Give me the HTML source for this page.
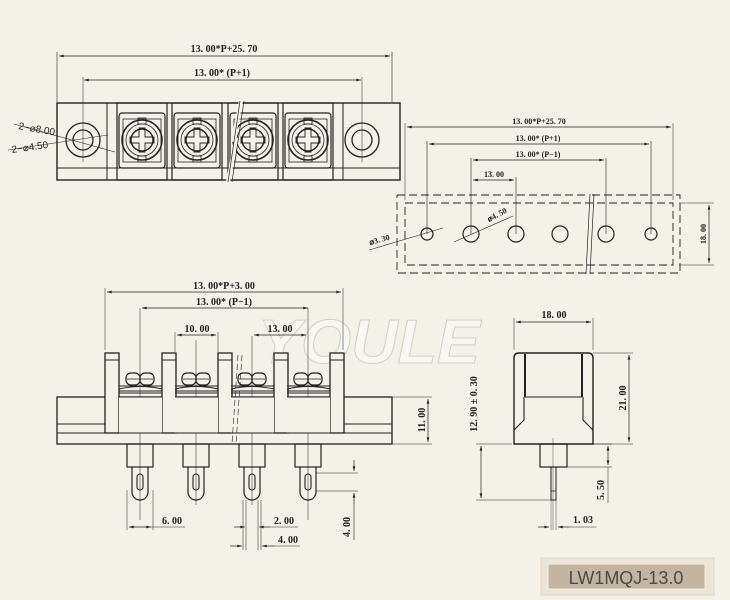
<!DOCTYPE html>
<html><head><meta charset="utf-8"><style>
html,body{margin:0;padding:0;background:#f4f1e9;}
svg{display:block;}
text{font-family:"Liberation Serif",serif;font-weight:bold;fill:#222;}
</style></head><body>
<svg width="730" height="600" viewBox="0 0 730 600" xmlns="http://www.w3.org/2000/svg">
<defs>
<marker id="a" viewBox="0 0 10 6" refX="10" refY="3" markerWidth="8" markerHeight="4" orient="auto-start-reverse"><path d="M0,0L10,3L0,6z" fill="#222"/></marker>
</defs>
<rect width="730" height="600" fill="#f4f1e9"/>
<!-- watermark -->
<text x="258" y="363" font-size="62" font-style="italic" textLength="222" lengthAdjust="spacingAndGlyphs" style="fill:#f8f7f2;stroke:#d3d0c8;stroke-width:1;font-family:'Liberation Sans',sans-serif">YOULE</text>

<g stroke="#222" fill="none" stroke-width="1">
<!-- ===== TOP VIEW ===== -->
<line x1="57" y1="102" x2="57" y2="52" stroke-width="0.6"/>
<line x1="392" y1="102" x2="392" y2="52" stroke-width="0.6"/>
<line x1="59" y1="56" x2="390" y2="56" stroke-width="0.7" marker-start="url(#a)" marker-end="url(#a)"/>
<line x1="84" y1="80" x2="361" y2="80" stroke-width="0.7" marker-start="url(#a)" marker-end="url(#a)"/>
<line x1="83" y1="77" x2="83" y2="162" stroke-width="0.5"/>
<line x1="362" y1="77" x2="362" y2="162" stroke-width="0.5"/>
<rect x="57" y="103" width="343" height="77" stroke-width="1.4"/>
<line x1="57" y1="168" x2="400" y2="168" stroke-width="1"/>
<line x1="107" y1="103" x2="107" y2="180"/>
<line x1="343" y1="103" x2="343" y2="180"/>
<circle cx="83" cy="140" r="17" stroke-width="1.3"/>
<circle cx="83" cy="140" r="10" stroke-width="1.3"/>
<circle cx="362" cy="140" r="17" stroke-width="1.3"/>
<circle cx="362" cy="140" r="10" stroke-width="1.3"/>
<line x1="14" y1="124" x2="115" y2="152" stroke-width="0.6"/>
<line x1="8" y1="150" x2="108" y2="135" stroke-width="0.6"/>
<g id="cell">
<rect x="117" y="103" width="50" height="77" stroke-width="1.2"/>
<rect x="119" y="113" width="46" height="55" rx="3" stroke-width="1.2"/>
<rect x="123" y="119" width="38" height="43" stroke-width="0.8"/>
<circle cx="142" cy="140" r="20" stroke-width="1.6"/>
<circle cx="142" cy="140" r="16" stroke-width="0.8"/>
<circle cx="142" cy="140" r="11" stroke-width="1.4"/>
<path d="M139,128h6v9h9v6h-9v9h-6v-9h-9v-6h9z" stroke-width="0.9"/>
<rect x="138" y="118" width="8" height="6" stroke-width="0.8"/>
<rect x="138" y="156" width="8" height="6" stroke-width="0.8"/>
</g>
<use href="#cell" x="55"/>
<use href="#cell" x="111"/>
<use href="#cell" x="166"/>
<path d="M241,101 L233,140 L236,140 L228,182" stroke="#f4f1e9" stroke-width="4"/>
<path d="M240,101 L228,182 M244,101 L232,182" stroke-width="0.7"/>

<!-- ===== HOLE VIEW ===== -->
<line x1="405" y1="123" x2="405" y2="200" stroke-width="0.5"/>
<line x1="673" y1="123" x2="673" y2="200" stroke-width="0.5"/>
<line x1="407" y1="127" x2="671" y2="127" stroke-width="0.7" marker-start="url(#a)" marker-end="url(#a)"/>
<line x1="427" y1="141" x2="427" y2="234" stroke-width="0.6"/>
<line x1="651" y1="141" x2="651" y2="234" stroke-width="0.6"/>
<line x1="429" y1="144" x2="649" y2="144" stroke-width="0.7" marker-start="url(#a)" marker-end="url(#a)"/>
<line x1="471" y1="158" x2="471" y2="234" stroke-width="0.6"/>
<line x1="606" y1="158" x2="606" y2="234" stroke-width="0.6"/>
<line x1="473" y1="160" x2="604" y2="160" stroke-width="0.7" marker-start="url(#a)" marker-end="url(#a)"/>
<line x1="516" y1="177" x2="516" y2="234" stroke-width="0.6"/>
<line x1="473" y1="180" x2="514" y2="180" stroke-width="0.7" marker-start="url(#a)" marker-end="url(#a)"/>
<g stroke-dasharray="8,4" stroke-width="0.9">
<path d="M397,195 H588"/>
<path d="M592,195 H680 V273 H590"/>
<path d="M586,273 H397 V195"/>
<path d="M405,203 H673 V265 H405 Z"/>
</g>
<path d="M590,194 L586,274 M594,194 L590,274" stroke-width="0.7"/>
<circle cx="427" cy="234" r="6" stroke-width="1.2"/>
<circle cx="471" cy="234" r="8" stroke-width="1.2"/>
<circle cx="516" cy="234" r="8" stroke-width="1.2"/>
<circle cx="560" cy="234" r="8" stroke-width="1.2"/>
<circle cx="606" cy="234" r="8" stroke-width="1.2"/>
<circle cx="651" cy="234" r="6" stroke-width="1.2"/>
<line x1="369" y1="250" x2="443" y2="228" stroke-width="0.6"/>
<line x1="454" y1="242" x2="513" y2="216" stroke-width="0.6"/>
<line x1="679" y1="203" x2="714" y2="203" stroke-width="0.5"/>
<line x1="679" y1="265" x2="714" y2="265" stroke-width="0.5"/>
<line x1="709" y1="205" x2="709" y2="263" stroke-width="0.7" marker-start="url(#a)" marker-end="url(#a)"/>

<!-- ===== FRONT VIEW ===== -->
<line x1="105" y1="350" x2="105" y2="288" stroke-width="0.5"/>
<line x1="343" y1="350" x2="343" y2="288" stroke-width="0.5"/>
<line x1="107" y1="292" x2="341" y2="292" stroke-width="0.7" marker-start="url(#a)" marker-end="url(#a)"/>
<line x1="142" y1="308" x2="308" y2="308" stroke-width="0.7" marker-start="url(#a)" marker-end="url(#a)"/>
<line x1="140" y1="308" x2="140" y2="520" stroke-width="0.5"/>
<line x1="308" y1="308" x2="308" y2="520" stroke-width="0.5"/>
<line x1="196" y1="340" x2="196" y2="505" stroke-width="0.5"/>
<line x1="252" y1="336" x2="252" y2="505" stroke-width="0.5"/>
<line x1="175" y1="332" x2="175" y2="352" stroke-width="0.5"/>
<line x1="218" y1="332" x2="218" y2="352" stroke-width="0.5"/>
<line x1="177" y1="335" x2="216" y2="335" stroke-width="0.7" marker-start="url(#a)" marker-end="url(#a)"/>
<line x1="254" y1="335" x2="306" y2="335" stroke-width="0.7" marker-start="url(#a)" marker-end="url(#a)"/>
<rect x="57" y="397" width="335" height="47" stroke-width="1.3"/>
<line x1="57" y1="424" x2="392" y2="424"/>
<line x1="57" y1="433" x2="392" y2="433"/>
<g id="wall"><rect x="105" y="353" width="14" height="80" fill="#f4f1e9" stroke-width="1.3"/><line x1="105" y1="360" x2="119" y2="360"/></g>
<use href="#wall" x="57"/><use href="#wall" x="113"/><use href="#wall" x="169"/><use href="#wall" x="225"/>
<g id="fcell">
<rect x="119" y="397" width="43" height="36" fill="#f4f1e9" stroke="none"/>
<line x1="119" y1="397" x2="162" y2="397"/>
<line x1="119" y1="433" x2="162" y2="433"/>
<rect x="126" y="373" width="14" height="12" rx="5" stroke-width="1.2"/>
<rect x="140" y="373" width="14" height="12" rx="5" stroke-width="1.2"/>
<line x1="127" y1="379" x2="153" y2="379" stroke-width="0.7"/>
<path d="M119,386 H162 M119,389 Q140,384 162,389 M119,391 H162 M119,393 H162" stroke-width="0.9"/>
<rect x="127" y="444" width="26" height="23" stroke-width="1.2"/>
<path d="M132,467 V492 A8,8 0 0 0 148,492 V467" stroke-width="1.2"/>
<rect x="137" y="474" width="6" height="16" rx="3" stroke-width="1.1"/>
</g>
<use href="#fcell" x="56"/><use href="#fcell" x="112"/><use href="#fcell" x="168"/>
<path d="M238,355 L232,444 M242,355 L236,444" stroke-width="0.6" stroke-dasharray="6,3"/>
<line x1="392" y1="397" x2="432" y2="397" stroke-width="0.5"/>
<line x1="392" y1="444" x2="432" y2="444" stroke-width="0.5"/>
<line x1="428" y1="399" x2="428" y2="442" stroke-width="0.7" marker-start="url(#a)" marker-end="url(#a)"/>
<line x1="316" y1="473" x2="358" y2="473" stroke-width="0.5"/>
<line x1="316" y1="491" x2="358" y2="491" stroke-width="0.5"/>
<line x1="354" y1="460" x2="354" y2="471" stroke-width="0.7" marker-end="url(#a)"/>
<line x1="354" y1="504" x2="354" y2="493" stroke-width="0.7" marker-end="url(#a)"/>
<line x1="354" y1="504" x2="354" y2="540" stroke-width="0.6"/>
<line x1="127" y1="490" x2="127" y2="530" stroke-width="0.5"/>
<line x1="153" y1="490" x2="153" y2="530" stroke-width="0.5"/>
<line x1="129" y1="527" x2="151" y2="527" stroke-width="0.7" marker-start="url(#a)" marker-end="url(#a)"/>
<line x1="151" y1="527" x2="185" y2="527" stroke-width="0.5"/>
<line x1="243" y1="500" x2="243" y2="550" stroke-width="0.5"/>
<line x1="246" y1="500" x2="246" y2="550" stroke-width="0.5"/>
<line x1="258" y1="500" x2="258" y2="550" stroke-width="0.5"/>
<line x1="261" y1="500" x2="261" y2="550" stroke-width="0.5"/>
<line x1="234" y1="527" x2="245" y2="527" stroke-width="0.7" marker-end="url(#a)"/>
<line x1="270" y1="527" x2="259" y2="527" stroke-width="0.7" marker-end="url(#a)"/>
<line x1="270" y1="527" x2="298" y2="527" stroke-width="0.5"/>
<line x1="230" y1="546" x2="242" y2="546" stroke-width="0.7" marker-end="url(#a)"/>
<line x1="275" y1="546" x2="262" y2="546" stroke-width="0.7" marker-end="url(#a)"/>
<line x1="275" y1="546" x2="300" y2="546" stroke-width="0.5"/>

<!-- ===== SIDE VIEW ===== -->
<line x1="514" y1="350" x2="514" y2="318" stroke-width="0.5"/>
<line x1="593" y1="350" x2="593" y2="318" stroke-width="0.5"/>
<line x1="516" y1="322" x2="591" y2="322" stroke-width="0.7" marker-start="url(#a)" marker-end="url(#a)"/>
<path d="M519,353 H588 Q593,353 593,358 V444 H514 V358 Q514,353 519,353 Z" stroke-width="1.4"/>
<line x1="525" y1="354" x2="525" y2="397" stroke-width="2"/>
<line x1="582" y1="354" x2="582" y2="397" stroke-width="2"/>
<path d="M525,397 H582 M524,397 V420 L514,430 M583,397 V420 L593,430" stroke-width="1.1"/>
<rect x="540" y="444" width="27" height="23" stroke-width="1.2"/>
<rect x="551" y="467" width="5" height="33" stroke-width="1"/>
<line x1="551" y1="491" x2="556" y2="491" stroke-width="0.8"/>
<line x1="553" y1="438" x2="553" y2="530" stroke-width="0.4"/>
<line x1="593" y1="353" x2="633" y2="353" stroke-width="0.5"/>
<line x1="593" y1="444" x2="633" y2="444" stroke-width="0.5"/>
<line x1="629" y1="355" x2="629" y2="442" stroke-width="0.7" marker-start="url(#a)" marker-end="url(#a)"/>
<line x1="476" y1="444" x2="512" y2="444" stroke-width="0.5"/>
<line x1="476" y1="500" x2="551" y2="500" stroke-width="0.5"/>
<line x1="481" y1="446" x2="481" y2="498" stroke-width="0.7" marker-start="url(#a)" marker-end="url(#a)"/>
<line x1="593" y1="444" x2="612" y2="444" stroke-width="0.5"/>
<line x1="567" y1="467" x2="612" y2="467" stroke-width="0.5"/>
<line x1="608" y1="446" x2="608" y2="465" stroke-width="0.7" marker-start="url(#a)" marker-end="url(#a)"/>
<line x1="608" y1="467" x2="608" y2="503" stroke-width="0.5"/>
<line x1="551" y1="500" x2="551" y2="530" stroke-width="0.4"/>
<line x1="556" y1="500" x2="556" y2="530" stroke-width="0.4"/>
<line x1="538" y1="527" x2="549" y2="527" stroke-width="0.7" marker-end="url(#a)"/>
<line x1="570" y1="527" x2="558" y2="527" stroke-width="0.7" marker-end="url(#a)"/>
<line x1="570" y1="527" x2="596" y2="527" stroke-width="0.5"/>
</g>

<!-- text labels -->
<g font-size="10">
<text x="224" y="52" text-anchor="middle">13. 00*P+25. 70</text>
<text x="222" y="76" text-anchor="middle">13. 00* (P+1)</text>
<text x="18" y="129" transform="rotate(10 18 129)" style="font-family:'Liberation Sans',sans-serif;font-weight:normal">2−⌀8.00</text>
<text x="12" y="153" transform="rotate(-8 12 153)" style="font-family:'Liberation Sans',sans-serif;font-weight:normal">2−⌀4.50</text>
<text x="539" y="124" text-anchor="middle" font-size="8">13. 00*P+25. 70</text>
<text x="538" y="141" text-anchor="middle" font-size="8">13. 00* (P+1)</text>
<text x="538" y="157" text-anchor="middle" font-size="8">13. 00* (P−1)</text>
<text x="494" y="177" text-anchor="middle" font-size="8">13. 00</text>
<text x="370" y="245" font-size="8" transform="rotate(-15 370 245)">⌀3. 30</text>
<text x="489" y="222" font-size="8" transform="rotate(-28 489 222)">⌀4. 50</text>
<text x="706" y="234" font-size="8" text-anchor="middle" transform="rotate(-90 706 234)">18. 00</text>
<text x="224" y="289" text-anchor="middle">13. 00*P+3. 00</text>
<text x="224" y="305" text-anchor="middle">13. 00* (P−1)</text>
<text x="197" y="332" text-anchor="middle">10. 00</text>
<text x="280" y="332" text-anchor="middle">13. 00</text>
<text x="425" y="420" text-anchor="middle" transform="rotate(-90 425 420)">11. 00</text>
<text x="172" y="524" text-anchor="middle">6. 00</text>
<text x="284" y="524" text-anchor="middle">2. 00</text>
<text x="288" y="543" text-anchor="middle">4. 00</text>
<text x="350" y="527" text-anchor="middle" transform="rotate(-90 350 527)">4. 00</text>
<text x="554" y="318" text-anchor="middle">18. 00</text>
<text x="626" y="398" text-anchor="middle" transform="rotate(-90 626 398)">21. 00</text>
<text x="477" y="404" text-anchor="middle" transform="rotate(-90 477 404)">12. 90 ± 0. 30</text>
<text x="604" y="490" text-anchor="middle" transform="rotate(-90 604 490)">5. 50</text>
<text x="583" y="523" text-anchor="middle">1. 03</text>
</g>

<!-- label box -->
<rect x="541" y="558" width="173" height="37" fill="#ece4d6" stroke="#e0d6c4"/>
<rect x="548" y="564" width="157" height="25" fill="#c3b5a0" stroke="#f4efe6" stroke-width="1"/>
<text x="626" y="584" text-anchor="middle" font-size="18" style="font-family:'Liberation Sans',sans-serif;font-weight:normal;fill:#4a4a4a">LW1MQJ-13.0</text>
</svg>
</body></html>
